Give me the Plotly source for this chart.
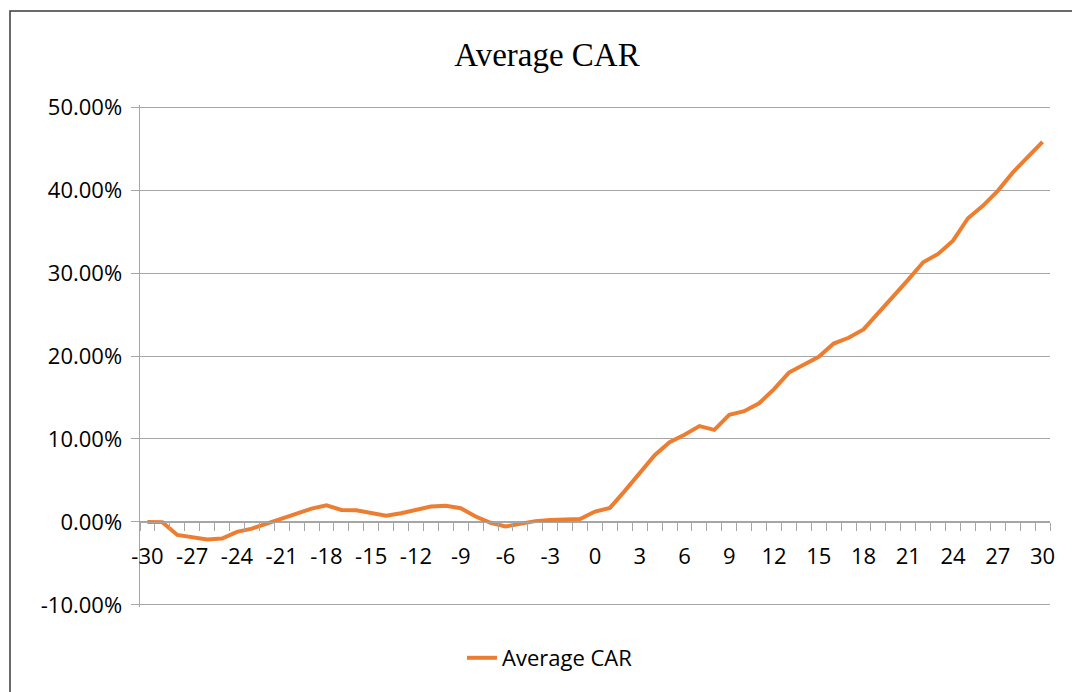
import plotly.graph_objects as go

days = list(range(-30, 31))
avg_car = [
    -0.0000, -0.0002, -0.0157, -0.0180, -0.0210, -0.0200, -0.0120, -0.0080, -0.0020, 0.0045,
    0.0100, 0.0160, 0.0200, 0.0145, 0.0140, 0.0105, 0.0075, 0.0105, 0.0140, 0.0185,
    0.0195, 0.0165, 0.0065, -0.0010, -0.0055, -0.0020, 0.0010, 0.0025, 0.0030, 0.0035,
    0.0125, 0.0170, 0.0375, 0.0590, 0.0805, 0.0960, 0.1050, 0.1155, 0.1110, 0.1290,
    0.1335, 0.1430, 0.1600, 0.1800, 0.1890, 0.1990, 0.2150, 0.2220, 0.2320, 0.2520,
    0.2710, 0.2920, 0.3130, 0.3230, 0.3390, 0.3660, 0.3810, 0.3990, 0.4210, 0.4400,
    0.4580,
]
x_tick_vals = list(range(-30, 31, 3))
y_tick_vals = [-0.10, 0.0, 0.10, 0.20, 0.30, 0.40, 0.50]
y_tick_text = [f"{v:.2%}" for v in y_tick_vals]

GRID = "#a6a6a6"
ORANGE = "#ED7D31"
LABEL_FONT = dict(family="Open Sans, Lato, sans-serif", size=22, color="#000000")

W, H = 1072, 692
L, R, T, B = 140, 1050, 107, 605

fig = go.Figure()
fig.add_trace(go.Scatter(
    x=days, y=avg_car, mode="lines", name="Average CAR",
    line=dict(color=ORANGE, width=4),
))

y_lo, y_hi = -0.10, 0.50
pad = 0.0025
fig.update_layout(
    width=W, height=H,
    paper_bgcolor="white", plot_bgcolor="white",
    hovermode=False,
    margin=dict(l=L, r=W - R, t=T - 2, b=H - B - 2, autoexpand=False),
    title=dict(text="Average CAR", x=547 / W, xanchor="center", y=1 - 54 / H, yanchor="middle",
               font=dict(family="Liberation Serif, serif", size=33, color="#000000")),
    showlegend=True,
    legend=dict(orientation="h", x=550 / W, xanchor="center", xref="container",
                y=1 - 658 / H, yanchor="middle", yref="container",
                font=LABEL_FONT, bgcolor="rgba(0,0,0,0)"),
    xaxis=dict(
        range=[-30.5, 30.5], anchor="free", position=(0 - y_lo + pad) / (y_hi - y_lo + 2 * pad),
        automargin=False,
        tickmode="array", tickvals=x_tick_vals, ticktext=[str(v) for v in x_tick_vals],
        ticks="outside", ticklen=14, tickcolor="rgba(0,0,0,0)",
        minor=dict(tick0=-0.5, dtick=1, ticks="outside", ticklen=8, tickcolor=GRID, showgrid=False),
        showgrid=False, zeroline=False, showline=True, linecolor=GRID, linewidth=1.5,
        tickfont=LABEL_FONT,
    ),
    yaxis=dict(
        range=[y_lo - pad, y_hi + pad], tickmode="array", tickvals=y_tick_vals, ticktext=y_tick_text,
        automargin=False,
        showgrid=True, gridcolor=GRID, gridwidth=1, zeroline=False,
        showline=True, linecolor=GRID, linewidth=1.5,
        ticks="outside", ticklen=8, tickcolor=GRID, ticklabelstandoff=4,
        tickfont=LABEL_FONT,
    ),
    shapes=[dict(type="rect", xref="paper", yref="paper",
                 x0=(10 - L) / (R - L), x1=(1090 - L) / (R - L),
                 y0=(B + 2 - 720) / (B - T + 4), y1=(B + 2 - 11) / (B - T + 4),
                 line=dict(color="#3a3a3a", width=1.5), fillcolor="rgba(0,0,0,0)", layer="below")],
)

fig.write_html(
    "out.html",
    config={"displayModeBar": False, "staticPlot": True},
    post_script="document.body.style.margin='0';document.body.style.overflow='hidden';",
)
